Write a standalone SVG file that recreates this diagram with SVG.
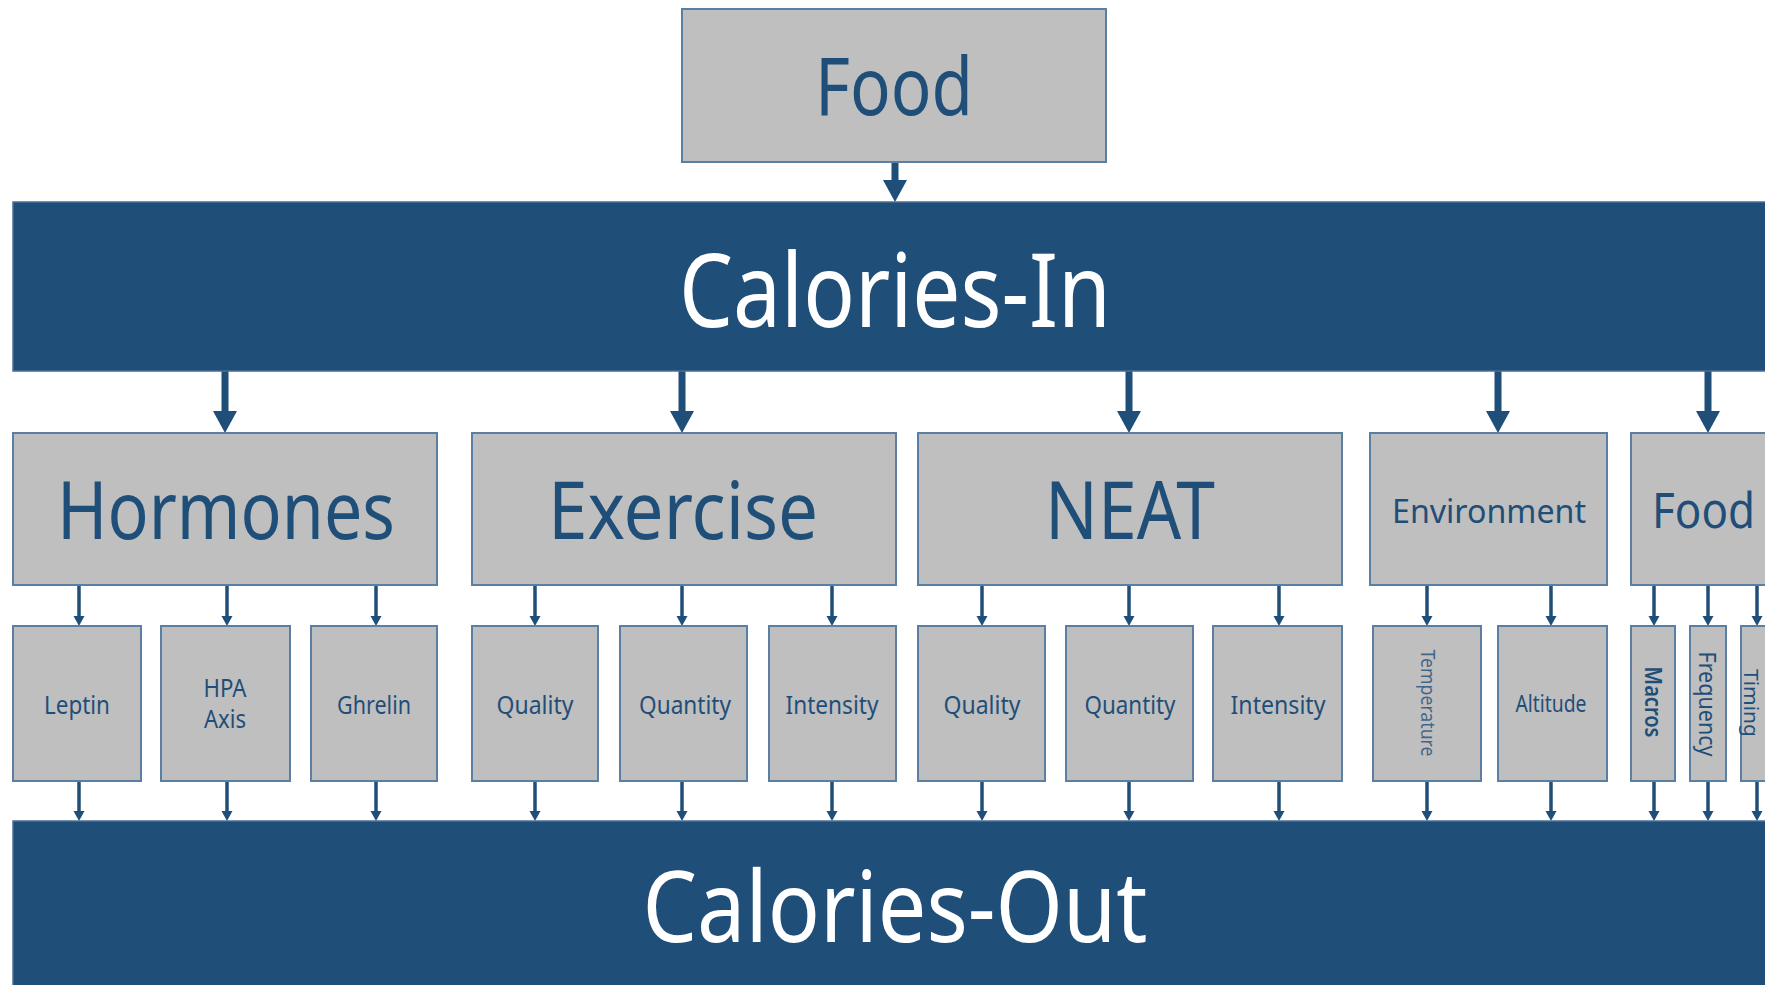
<svg xmlns="http://www.w3.org/2000/svg" width="1765" height="985" viewBox="0 0 1765 985">
  <style>
    .box { fill: #bfbfbf; stroke: #5a7fa5; stroke-width: 2; }
    .band { fill: #1f4e79; stroke: #4a6f96; stroke-width: 1.5; }
    .lbl { font-family: "Noto Sans", "Open Sans", sans-serif; fill: #1f4e79; text-anchor: middle; }
    .big { font-family: "Noto Sans", "Open Sans", sans-serif; fill: #ffffff; text-anchor: middle; }
    .vert { font-family: "Noto Sans", "Open Sans", sans-serif; fill: #1f4e79; text-anchor: middle; dominant-baseline: central; }
    .thick { stroke: #1f4e79; stroke-width: 7; fill: none; }
    .thin { stroke: #1f4e79; stroke-width: 3.5; fill: none; }
  </style>
  <defs>
    <marker id="headBig" markerUnits="userSpaceOnUse" viewBox="0 -13 23 26" refX="0" refY="0" markerWidth="23" markerHeight="26" orient="auto">
      <path d="M0,-12 L22,0 L0,12 Z" fill="#1f4e79"/>
    </marker>
    <marker id="headSmall" markerUnits="userSpaceOnUse" viewBox="0 -6 11 12" refX="0" refY="0" markerWidth="11" markerHeight="12" orient="auto">
      <path d="M0,-5.5 L10,0 L0,5.5 Z" fill="#1f4e79"/>
    </marker>
  </defs>

  <rect width="1765" height="985" fill="#ffffff"/>

  <!-- connectors -->
  <g id="connectors">
    <line class="thick" x1="895" y1="162" x2="895" y2="180" marker-end="url(#headBig)"/>
    <line class="thick" x1="225" y1="371" x2="225" y2="411" marker-end="url(#headBig)"/>
    <line class="thick" x1="682" y1="371" x2="682" y2="411" marker-end="url(#headBig)"/>
    <line class="thick" x1="1129" y1="371" x2="1129" y2="411" marker-end="url(#headBig)"/>
    <line class="thick" x1="1498" y1="371" x2="1498" y2="411" marker-end="url(#headBig)"/>
    <line class="thick" x1="1708" y1="371" x2="1708" y2="411" marker-end="url(#headBig)"/>

    <!-- category to factor -->
    <line class="thin" x1="79" y1="585" x2="79" y2="616" marker-end="url(#headSmall)"/>
    <line class="thin" x1="227" y1="585" x2="227" y2="616" marker-end="url(#headSmall)"/>
    <line class="thin" x1="376" y1="585" x2="376" y2="616" marker-end="url(#headSmall)"/>
    <line class="thin" x1="535" y1="585" x2="535" y2="616" marker-end="url(#headSmall)"/>
    <line class="thin" x1="682" y1="585" x2="682" y2="616" marker-end="url(#headSmall)"/>
    <line class="thin" x1="832" y1="585" x2="832" y2="616" marker-end="url(#headSmall)"/>
    <line class="thin" x1="982" y1="585" x2="982" y2="616" marker-end="url(#headSmall)"/>
    <line class="thin" x1="1129" y1="585" x2="1129" y2="616" marker-end="url(#headSmall)"/>
    <line class="thin" x1="1279" y1="585" x2="1279" y2="616" marker-end="url(#headSmall)"/>
    <line class="thin" x1="1427" y1="585" x2="1427" y2="616" marker-end="url(#headSmall)"/>
    <line class="thin" x1="1551" y1="585" x2="1551" y2="616" marker-end="url(#headSmall)"/>
    <line class="thin" x1="1654" y1="585" x2="1654" y2="616" marker-end="url(#headSmall)"/>
    <line class="thin" x1="1708" y1="585" x2="1708" y2="616" marker-end="url(#headSmall)"/>
    <line class="thin" x1="1757" y1="585" x2="1757" y2="616" marker-end="url(#headSmall)"/>

    <!-- factor to calories-out -->
    <line class="thin" x1="79" y1="781" x2="79" y2="811" marker-end="url(#headSmall)"/>
    <line class="thin" x1="227" y1="781" x2="227" y2="811" marker-end="url(#headSmall)"/>
    <line class="thin" x1="376" y1="781" x2="376" y2="811" marker-end="url(#headSmall)"/>
    <line class="thin" x1="535" y1="781" x2="535" y2="811" marker-end="url(#headSmall)"/>
    <line class="thin" x1="682" y1="781" x2="682" y2="811" marker-end="url(#headSmall)"/>
    <line class="thin" x1="832" y1="781" x2="832" y2="811" marker-end="url(#headSmall)"/>
    <line class="thin" x1="982" y1="781" x2="982" y2="811" marker-end="url(#headSmall)"/>
    <line class="thin" x1="1129" y1="781" x2="1129" y2="811" marker-end="url(#headSmall)"/>
    <line class="thin" x1="1279" y1="781" x2="1279" y2="811" marker-end="url(#headSmall)"/>
    <line class="thin" x1="1427" y1="781" x2="1427" y2="811" marker-end="url(#headSmall)"/>
    <line class="thin" x1="1551" y1="781" x2="1551" y2="811" marker-end="url(#headSmall)"/>
    <line class="thin" x1="1654" y1="781" x2="1654" y2="811" marker-end="url(#headSmall)"/>
    <line class="thin" x1="1708" y1="781" x2="1708" y2="811" marker-end="url(#headSmall)"/>
    <line class="thin" x1="1757" y1="781" x2="1757" y2="811" marker-end="url(#headSmall)"/>
  </g>

  <!-- source -->
  <g id="food-source">
    <rect class="box" x="682" y="9" width="424" height="153"/>
    <text class="lbl" x="894" y="115" font-size="80" textLength="158" lengthAdjust="spacingAndGlyphs">Food</text>
  </g>

  <g id="calories-in">
    <rect class="band" x="13" y="202" width="1770" height="169"/>
    <text class="big" x="895" y="327" font-size="102" textLength="432" lengthAdjust="spacingAndGlyphs">Calories-In</text>
  </g>

  <!-- categories -->
  <g id="hormones">
    <rect class="box" x="13" y="433" width="424" height="152"/>
    <text class="lbl" x="226" y="539" font-size="80" textLength="338" lengthAdjust="spacingAndGlyphs">Hormones</text>
  </g>
  <g id="exercise">
    <rect class="box" x="472" y="433" width="424" height="152"/>
    <text class="lbl" x="683" y="539" font-size="80" textLength="270" lengthAdjust="spacingAndGlyphs">Exercise</text>
  </g>
  <g id="neat">
    <rect class="box" x="918" y="433" width="424" height="152"/>
    <text class="lbl" x="1130" y="539" font-size="80" textLength="170" lengthAdjust="spacingAndGlyphs">NEAT</text>
  </g>
  <g id="environment">
    <rect class="box" x="1370" y="433" width="237" height="152"/>
    <text class="lbl" x="1489" y="523" font-size="32" textLength="194" lengthAdjust="spacingAndGlyphs">Environment</text>
  </g>
  <g id="food-category">
    <rect class="box" x="1631" y="433" width="150" height="152"/>
    <text class="lbl" x="1652" y="528" font-size="49" style="text-anchor:start" textLength="103" lengthAdjust="spacingAndGlyphs">Food</text>
  </g>

  <!-- factors -->
  <g id="leptin">
    <rect class="box" x="13" y="626" width="128" height="155"/>
    <text class="lbl" x="77" y="714" font-size="25" textLength="66" lengthAdjust="spacingAndGlyphs">Leptin</text>
  </g>
  <g id="hpa-axis">
    <rect class="box" x="161" y="626" width="129" height="155"/>
    <text class="lbl" x="225" y="697" font-size="25" textLength="43" lengthAdjust="spacingAndGlyphs">HPA</text>
    <text class="lbl" x="225" y="728" font-size="25" textLength="42" lengthAdjust="spacingAndGlyphs">Axis</text>
  </g>
  <g id="ghrelin">
    <rect class="box" x="311" y="626" width="126" height="155"/>
    <text class="lbl" x="374" y="714" font-size="25" textLength="74" lengthAdjust="spacingAndGlyphs">Ghrelin</text>
  </g>
  <g id="exercise-quality">
    <rect class="box" x="472" y="626" width="126" height="155"/>
    <text class="lbl" x="535" y="714" font-size="25" textLength="77" lengthAdjust="spacingAndGlyphs">Quality</text>
  </g>
  <g id="exercise-quantity">
    <rect class="box" x="620" y="626" width="127" height="155"/>
    <text class="lbl" x="685" y="714" font-size="25" textLength="92" lengthAdjust="spacingAndGlyphs">Quantity</text>
  </g>
  <g id="exercise-intensity">
    <rect class="box" x="769" y="626" width="127" height="155"/>
    <text class="lbl" x="832" y="714" font-size="25" textLength="93" lengthAdjust="spacingAndGlyphs">Intensity</text>
  </g>
  <g id="neat-quality">
    <rect class="box" x="918" y="626" width="127" height="155"/>
    <text class="lbl" x="982" y="714" font-size="25" textLength="77" lengthAdjust="spacingAndGlyphs">Quality</text>
  </g>
  <g id="neat-quantity">
    <rect class="box" x="1066" y="626" width="127" height="155"/>
    <text class="lbl" x="1130" y="714" font-size="25" textLength="91" lengthAdjust="spacingAndGlyphs">Quantity</text>
  </g>
  <g id="neat-intensity">
    <rect class="box" x="1213" y="626" width="129" height="155"/>
    <text class="lbl" x="1278" y="714" font-size="25" textLength="95" lengthAdjust="spacingAndGlyphs">Intensity</text>
  </g>
  <g id="temperature">
    <rect class="box" x="1373" y="626" width="108" height="155"/>
    <text class="vert" transform="translate(1428 703) rotate(90)" font-size="20" fill-opacity="0.8" textLength="107" lengthAdjust="spacingAndGlyphs">Temperature</text>
  </g>
  <g id="altitude">
    <rect class="box" x="1498" y="626" width="109" height="155"/>
    <text class="lbl" x="1551" y="712" font-size="23" textLength="71" lengthAdjust="spacingAndGlyphs">Altitude</text>
  </g>
  <g id="macros">
    <rect class="box" x="1631" y="626" width="44" height="155"/>
    <text class="vert" transform="translate(1654 702) rotate(90)" font-size="24" font-weight="600" textLength="71" lengthAdjust="spacingAndGlyphs">Macros</text>
  </g>
  <g id="frequency">
    <rect class="box" x="1690" y="626" width="36" height="155"/>
    <text class="vert" transform="translate(1708 704) rotate(90)" font-size="24" textLength="105" lengthAdjust="spacingAndGlyphs">Frequency</text>
  </g>
  <g id="timing">
    <rect class="box" x="1741" y="626" width="40" height="155"/>
    <text class="vert" transform="translate(1751 703) rotate(90)" font-size="20" textLength="68" lengthAdjust="spacingAndGlyphs">Timing</text>
  </g>

  <g id="calories-out">
    <rect class="band" x="13" y="821" width="1770" height="180"/>
    <text class="big" x="895" y="942" font-size="98" textLength="505" lengthAdjust="spacingAndGlyphs">Calories-Out</text>
  </g>
</svg>
